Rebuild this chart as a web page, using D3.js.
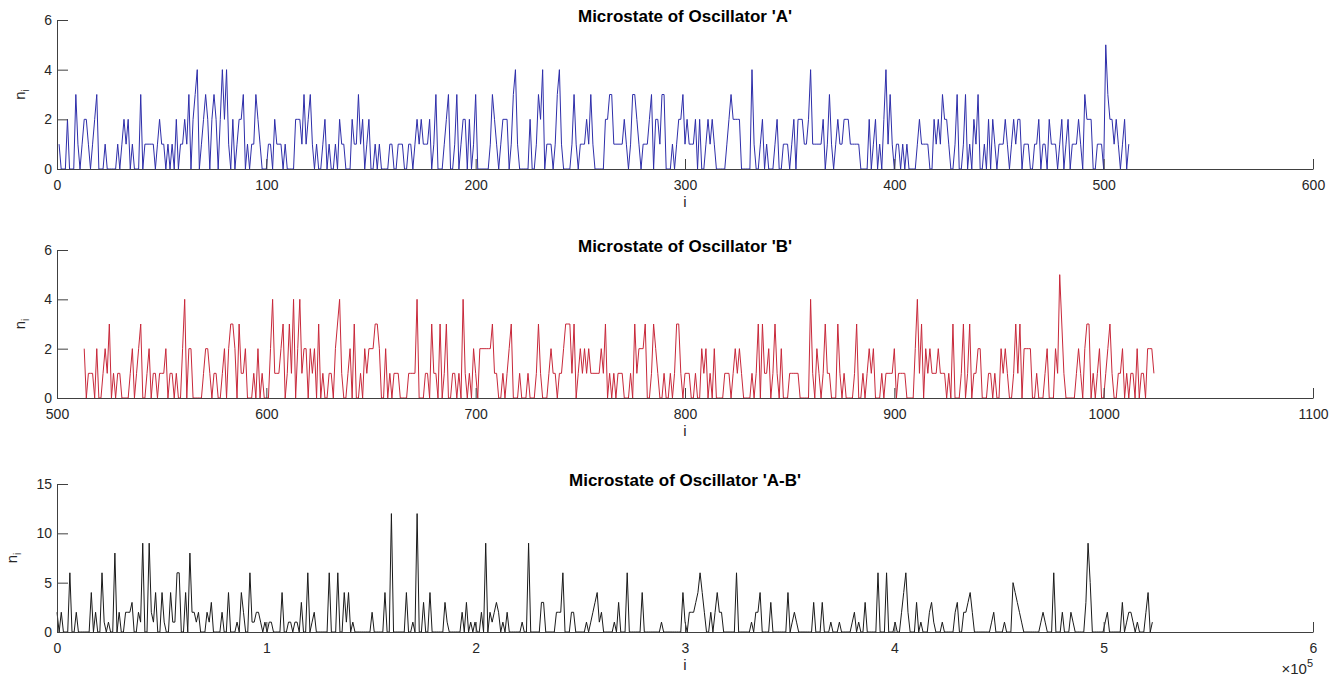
<!DOCTYPE html>
<html>
<head>
<meta charset="utf-8">
<script src="https://cdn.jsdelivr.net/npm/d3@7/dist/d3.min.js"></script>
<style>
  body { margin: 0; background: #fff; }
  svg text { font-family: "Liberation Sans", Arial, sans-serif; }
</style>
</head>
<body>
<div id="chart"></div>
<script>
// occupation numbers n_i
var nA = [
  1,0,0,0,2,0,0,0,3,1,0,1,2,2,1,0,1,2,3,0,
  0,0,1,0,0,0,0,0,1,0,1,2,1,2,0,1,0,0,0,3,
  0,1,1,1,1,1,0,1,2,1,1,0,1,0,1,0,2,0,1,1,
  2,1,3,0,2,3,4,0,1,2,3,2,0,2,3,2,0,2,4,2,
  4,1,0,2,0,1,2,2,3,0,1,0,1,1,3,2,1,0,0,0,
  1,1,0,2,1,1,1,0,1,0,0,0,0,2,2,2,1,3,1,2,
  3,1,0,1,0,0,1,2,0,1,0,0,1,0,2,1,1,0,0,0,
  2,1,1,3,1,2,0,1,2,0,0,1,0,1,0,0,0,0,1,1,
  0,0,1,1,1,0,0,1,1,0,1,2,1,2,1,1,1,2,0,1,
  3,0,0,0,1,2,3,0,0,1,3,0,1,2,2,0,2,0,1,3,
  0,0,0,0,0,0,1,3,2,1,0,1,2,2,2,0,1,3,4,1,
  0,0,0,0,0,2,0,0,1,3,2,4,0,1,1,1,0,1,3,4,
  1,0,0,0,0,1,3,1,0,1,1,1,2,1,3,1,0,0,0,0,
  0,2,2,3,3,1,1,1,1,1,2,1,0,1,3,3,2,1,0,1,
  1,1,2,3,0,2,2,1,3,3,0,0,0,1,0,1,2,2,3,1,
  2,1,1,1,2,0,2,0,0,1,2,1,2,1,0,0,0,0,0,1,
  2,3,2,2,2,2,0,0,0,0,0,4,1,0,0,1,2,0,1,0,
  0,0,1,2,0,0,1,1,1,0,1,2,0,2,2,2,1,1,2,4,
  1,1,1,1,1,2,0,1,3,1,0,1,2,1,1,2,2,2,1,1,
  1,1,1,0,0,0,0,2,0,1,2,0,1,0,2,4,1,3,1,0,
  1,1,0,1,0,1,0,0,0,0,1,2,1,1,1,1,0,0,2,1,
  2,1,3,2,2,1,0,0,1,3,0,0,1,3,0,1,0,2,1,3,
  0,0,1,0,2,0,2,1,0,1,1,1,2,1,0,1,2,1,2,2,
  0,1,1,1,0,0,1,1,2,0,1,1,0,2,1,1,1,0,1,2,
  0,1,2,0,1,1,1,2,1,0,3,2,2,2,0,0,1,1,1,0,
  5,3,2,2,1,2,1,0,1,2,0,1
];
var nB = [
  2,0,1,1,1,0,2,0,0,1,2,1,3,0,1,0,1,1,0,0,
  0,0,1,2,0,1,2,3,0,0,1,2,0,1,1,0,1,1,1,2,
  0,1,1,0,1,0,0,2,4,0,2,2,0,0,0,0,0,1,2,2,
  1,0,1,1,0,0,1,2,0,2,3,3,2,0,3,1,1,2,0,0,
  0,1,0,2,0,1,0,0,0,2,4,1,1,1,2,3,0,1,3,1,
  4,0,2,4,1,2,2,0,2,1,2,0,3,0,1,0,0,1,1,0,
  2,3,4,1,0,0,1,2,0,3,0,0,1,0,2,1,2,2,2,3,
  3,2,0,0,2,0,1,0,1,1,1,0,0,0,0,1,1,1,1,4,
  0,0,0,1,1,0,3,1,1,0,3,0,1,3,0,0,1,1,0,1,
  0,4,1,0,1,0,2,1,0,2,2,2,2,2,2,3,1,1,0,0,
  1,0,1,2,3,0,0,0,1,0,0,0,1,0,0,0,1,3,1,0,
  0,0,1,2,1,1,0,1,1,2,3,3,3,1,3,0,1,2,1,2,
  1,2,1,1,1,1,1,2,1,3,0,1,0,1,0,1,1,1,0,0,
  0,1,0,3,1,2,2,2,3,0,0,1,3,2,1,0,0,1,0,0,
  1,0,1,3,3,1,0,1,1,1,0,0,1,0,0,2,1,2,0,1,
  0,2,0,0,0,0,1,1,1,0,1,2,1,2,1,0,0,0,0,1,
  0,1,3,0,3,1,1,2,0,1,3,1,0,2,0,0,0,1,1,1,
  1,1,0,0,0,0,0,4,1,0,2,1,0,1,3,1,1,0,0,0,
  3,1,0,1,0,0,0,0,1,3,0,0,1,0,1,2,1,2,0,0,
  0,1,0,1,1,1,1,2,0,1,1,1,1,0,0,0,0,2,4,1,
  3,0,2,1,2,1,1,1,2,1,1,1,0,1,0,3,0,0,0,1,
  3,0,1,3,0,1,1,2,2,0,0,0,1,1,0,1,0,0,2,1,
  2,1,0,0,1,3,1,3,0,2,2,2,2,0,0,1,0,0,0,1,
  2,0,0,0,2,1,5,3,1,0,0,0,0,0,1,2,1,0,2,3,
  3,0,1,0,1,2,0,0,1,2,3,1,0,0,1,1,2,0,1,0,
  1,1,0,2,0,1,1,0,2,2,2,1
];
var nC = [
  2,0,2,0,0,0,6,0,0,2,0,0,0,0,0,0,4,0,2,0,
  0,6,1,0,1,0,0,8,0,2,0,0,2,2,2,3,0,0,2,1,
  9,0,0,9,2,1,4,0,0,4,1,0,0,4,1,1,6,6,0,0,
  4,0,8,2,2,1,2,0,0,0,2,1,3,0,0,0,0,2,0,0,
  4,0,0,0,1,0,4,2,0,0,6,1,1,2,2,1,0,1,0,1,
  1,0,0,0,0,4,0,0,1,1,0,1,1,0,3,0,0,6,0,1,
  2,0,0,0,0,0,0,6,0,0,0,6,0,0,4,1,4,0,1,0,
  0,0,0,0,0,0,0,2,0,0,0,0,0,4,0,0,12,0,0,0,
  0,0,0,4,0,0,1,0,12,0,0,3,0,0,4,0,0,0,0,0,
  0,3,1,0,0,0,0,0,0,2,0,3,0,1,0,1,0,0,2,0,
  9,0,2,1,2,3,2,0,1,0,2,0,0,0,0,0,0,1,0,0,
  9,0,0,0,0,0,3,3,0,0,0,0,0,2,2,2,6,0,0,0,
  2,2,0,0,0,0,0,1,0,1,2,3,4,1,2,0,0,0,0,0,
  1,0,3,0,0,0,6,0,0,0,0,0,0,4,0,0,0,0,0,0,
  0,0,1,0,0,0,0,0,0,0,0,0,4,1,0,2,2,2,3,4,
  6,4,2,0,0,2,0,2,4,2,2,0,0,0,0,0,0,6,0,0,
  0,0,0,0,1,0,2,2,4,0,0,0,0,3,0,0,0,0,0,0,
  0,4,0,1,2,1,0,0,0,0,0,0,0,3,0,0,0,3,0,0,
  0,1,0,0,0,1,0,0,0,0,0,1,2,0,1,0,0,3,0,0,
  0,0,0,6,0,0,0,6,0,0,0,1,0,0,2,4,6,2,0,0,
  0,3,0,1,0,0,0,2,3,1,0,0,0,1,0,0,0,0,0,2,
  3,0,0,2,2,3,4,2,0,0,0,0,0,0,0,0,1,2,0,0,
  0,0,1,0,0,0,5,4,3,2,1,0,0,0,0,0,0,0,0,1,
  2,1,0,0,0,6,0,0,0,2,0,0,0,2,1,0,0,0,0,0,
  3,9,5,0,0,0,0,0,0,1,2,0,0,0,0,0,0,3,0,1,
  2,2,1,0,1,0,0,0,2,4,0,1
];

// index of the first sample, and spacing of the A-B samples
var firstA = 1, firstB = 513, stepC = 1024;

var xTicksA = [0, 100, 200, 300, 400, 500, 600];
var xTicksB = [500, 600, 700, 800, 900, 1000, 1100];
var xTicksC = [0, 1, 2, 3, 4, 5, 6];   // in units of 10^5
var yTicksAB = [0, 2, 4, 6];
var yTicksC = [0, 5, 10, 15];
var titles = ["Microstate of Oscillator 'A'", "Microstate of Oscillator 'B'", "Microstate of Oscillator 'A-B'"];

var width = 1343, height = 678, left = 57, right = 1313;

var svg = d3.select("#chart").append("svg")
  .attr("width", width)
  .attr("height", height);

var panels = [
  { title: titles[0], xs: nA.map(function(v, k) { return firstA + k; }), ys: nA,
    xDom: [0, 600], xTicks: xTicksA, yDom: [0, 6], yTicks: yTicksAB,
    top: 20, bottom: 169, color: "#2e2eaa", labelX: 25 },
  { title: titles[1], xs: nB.map(function(v, k) { return firstB + k; }), ys: nB,
    xDom: [500, 1100], xTicks: xTicksB, yDom: [0, 6], yTicks: yTicksAB,
    top: 250, bottom: 398, color: "#c8283a", labelX: 25 },
  { title: titles[2], xs: nC.map(function(v, k) { return k * stepC; }), ys: nC,
    xDom: [0, 600000], xTicks: xTicksC.map(function(t) { return t * 1e5; }), yDom: [0, 15], yTicks: yTicksC,
    top: 484, bottom: 632, color: "#1a1a1a", labelX: 17, expo: true }
];

panels.forEach(function(p) {
  var x = d3.scaleLinear().domain(p.xDom).range([left, right]),
      y = d3.scaleLinear().domain(p.yDom).range([p.bottom, p.top]),
      g = svg.append("g");

  // data line
  g.append("path")
    .datum(d3.zip(p.xs, p.ys))
    .attr("fill", "none")
    .attr("stroke", p.color)
    .attr("stroke-width", 1)
    .attr("stroke-linejoin", "round")
    .attr("d", d3.line().x(function(d) { return x(d[0]); }).y(function(d) { return y(d[1]); }));

  // x axis, ticks pointing inward
  var xa = g.append("g")
    .attr("transform", "translate(0," + p.bottom + ")")
    .style("color", "#404040")
    .call(d3.axisBottom(x).tickValues(p.xTicks).tickSizeInner(-10).tickSizeOuter(0).tickPadding(11)
      .tickFormat(function(d) { return p.expo ? d / 1e5 : d; }));
  xa.selectAll("text").attr("font-size", 14).attr("fill", "#262626");

  // y axis
  var ya = g.append("g")
    .attr("transform", "translate(" + left + ",0)")
    .style("color", "#404040")
    .call(d3.axisLeft(y).tickValues(p.yTicks).tickSizeInner(-11).tickSizeOuter(0).tickPadding(5)
      .tickFormat(d3.format("d")));
  ya.selectAll("text").attr("font-size", 14).attr("fill", "#262626");

  // title
  g.append("text")
    .attr("x", (left + right) / 2)
    .attr("y", p.top + 2)
    .attr("text-anchor", "middle")
    .attr("font-size", 17)
    .attr("font-weight", "bold")
    .attr("fill", "#000")
    .text(p.title);

  // axis labels
  g.append("text")
    .attr("x", (left + right) / 2)
    .attr("y", p.bottom + 38)
    .attr("text-anchor", "middle")
    .attr("font-size", 15)
    .attr("fill", "#262626")
    .text("i");

  var yl = g.append("text")
    .attr("transform", "translate(" + p.labelX + "," + (p.top + p.bottom) / 2 + ") rotate(-90)")
    .attr("text-anchor", "middle")
    .attr("font-size", 15)
    .attr("fill", "#262626");
  yl.append("tspan").text("n");
  yl.append("tspan").attr("font-size", 10).attr("dy", 4).text("i");

  if (p.expo) {
    var ex = g.append("text")
      .attr("x", right)
      .attr("y", p.bottom + 42)
      .attr("text-anchor", "end")
      .attr("font-size", 15)
      .attr("fill", "#262626");
    ex.append("tspan").text("\u00d710");
    ex.append("tspan").attr("font-size", 11).attr("dy", -7).text("5");
  }
});
</script>
</body>
</html>
